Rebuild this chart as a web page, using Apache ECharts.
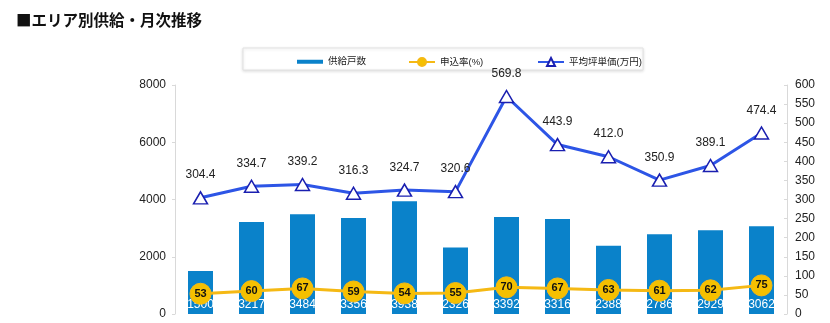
<!DOCTYPE html>
<html>
<head>
<meta charset="utf-8">
<script src="https://cdn.jsdelivr.net/npm/echarts@6/dist/echarts.min.js"></script>
<style>
html,body{margin:0;padding:0;background:#fff;}
#chart{width:830px;height:323px;}
</style>
</head>
<body>
<div id="chart"></div>
<script>
// Monthly supply by area: units supplied, contract rate, average price per tsubo
const categories = ['1', '2', '3', '4', '5', '6', '7', '8', '9', '10', '11', '12'];
const supplyUnits = [1500, 3217, 3484, 3356, 3938, 2326, 3392, 3316, 2388, 2786, 2929, 3062];
const contractRate = [53, 60, 67, 59, 54, 55, 70, 67, 63, 61, 62, 75];
const avgPrice = [304.4, 334.7, 339.2, 316.3, 324.7, 320.6, 569.8, 443.9, 412.0, 350.9, 389.1, 474.4];
const leftTicks = [0, 2000, 4000, 6000, 8000];
const rightTicks = [0, 50, 100, 150, 200, 250, 300, 350, 400, 450, 500, 550, 600];

const FONT = 'Arial, "Liberation Sans", "Noto Sans CJK JP", sans-serif';

const chart = echarts.init(document.getElementById('chart'), null, { renderer: 'canvas' });

// one legend entry per component so each can sit at its own x position
const legendBase = {
  top: 52,
  itemWidth: 26,
  itemHeight: 10,
  textStyle: { fontFamily: FONT, fontSize: 9.5, color: '#222' }
};

chart.setOption({
  backgroundColor: '#fff',
  animation: false,
  textStyle: { fontFamily: FONT },
  title: {
    text: '■エリア別供給・月次推移',
    left: 11,
    top: 7,
    textStyle: { fontFamily: '"Noto Sans CJK JP", sans-serif', fontSize: 15.5, fontWeight: 'bold', color: '#111' }
  },
  graphic: [{
    type: 'rect',
    shape: { x: 243, y: 48, width: 400, height: 22 },
    style: { fill: '#fff', stroke: '#e2e2e2', lineWidth: 1, shadowBlur: 3, shadowColor: 'rgba(0,0,0,0.12)', shadowOffsetY: 1 },
    z: -1
  }],
  legend: [
    Object.assign({ left: 292, data: [{ name: '供給戸数', icon: 'path://M0,3 L26,3 L26,7 L0,7 Z' }] }, legendBase),
    Object.assign({ left: 403, data: ['申込率(%)'] }, legendBase),
    Object.assign({ left: 532, data: ['平均坪単価(万円)'] }, legendBase)
  ],
  grid: { left: 175, right: 43, top: 85, bottom: 9 },
  xAxis: {
    type: 'category',
    data: categories,
    axisLine: { show: false },
    axisTick: { show: false },
    axisLabel: { show: false }
  },
  yAxis: [{
    type: 'value',
    min: leftTicks[0],
    max: leftTicks[leftTicks.length - 1],
    interval: 2000,
    axisLine: { show: true, lineStyle: { color: '#d9d9d9' } },
    axisTick: { show: true, length: 3, lineStyle: { color: '#d9d9d9' } },
    splitLine: { show: false },
    axisLabel: { color: '#222', fontSize: 12, margin: 9, fontFamily: FONT, formatter: v => String(v) }
  }, {
    type: 'value',
    min: rightTicks[0],
    max: rightTicks[rightTicks.length - 1],
    interval: 50,
    position: 'right',
    axisLine: { show: true, lineStyle: { color: '#d9d9d9' } },
    axisTick: { show: true, inside: true, length: 3, lineStyle: { color: '#d9d9d9' } },
    splitLine: { show: false },
    axisLabel: { color: '#222', fontSize: 12, margin: 8, fontFamily: FONT, formatter: v => String(v) }
  }],
  series: [{
    name: '供給戸数',
    type: 'bar',
    yAxisIndex: 0,
    data: supplyUnits,
    barWidth: 25,
    itemStyle: { color: '#0A82CA' },
    label: {
      show: true,
      position: 'insideBottom',
      distance: 3,
      color: '#fff',
      fontSize: 12,
      fontFamily: FONT
    },
    z: 1
  }, {
    name: '申込率(%)',
    type: 'line',
    yAxisIndex: 1,
    data: contractRate,
    symbol: 'circle',
    symbolSize: 21,
    lineStyle: { color: '#F5B914', width: 3 },
    itemStyle: { color: '#F5C000', borderColor: '#F5B914', borderWidth: 1 },
    label: {
      show: true,
      position: 'inside',
      color: '#111',
      fontSize: 11,
      fontWeight: 'bold',
      fontFamily: FONT
    },
    z: 3
  }, {
    name: '平均坪単価(万円)',
    type: 'line',
    yAxisIndex: 1,
    data: avgPrice,
    symbol: 'triangle',
    symbolSize: [14, 12],
    showAllSymbol: true,
    lineStyle: { color: '#2D55E6', width: 3 },
    itemStyle: { color: '#fff', borderColor: '#1A1FB0', borderWidth: 1.5 },
    label: {
      show: true,
      position: 'top',
      distance: 10,
      color: '#222',
      fontSize: 12,
      fontFamily: FONT,
      formatter: p => p.value.toFixed(1)
    },
    z: 4
  }]
});
</script>
</body>
</html>
